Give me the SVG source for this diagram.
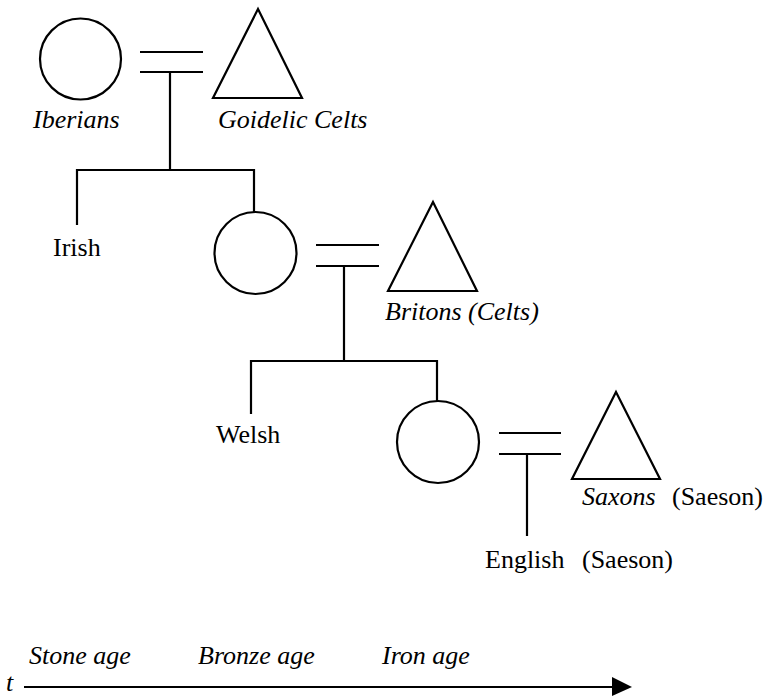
<svg xmlns="http://www.w3.org/2000/svg" width="767" height="698" viewBox="0 0 767 698">
<style>
.s{fill:none;stroke:#000;stroke-width:2.2}
.t{font-family:'Liberation Serif','Times New Roman','DejaVu Serif',serif;font-size:26px;fill:#000}
.i{font-style:italic}
</style>
<rect width="767" height="698" fill="#fff"/>
<g id="iberians"><circle class="s" cx="80.5" cy="59" r="40.5"/><text class="t i" x="33" y="128">Iberians</text></g>
<g id="goidelic"><polygon class="s" points="258,9 302,98 213,98"/><text class="t i" x="218" y="128">Goidelic Celts</text></g>
<g id="irish"><text class="t" x="53" y="256">Irish</text></g>
<g id="mother2"><circle class="s" cx="255.5" cy="253" r="41"/></g>
<g id="britons"><polygon class="s" points="433,202 477,291 388,291"/><text class="t i" x="385" y="320">Britons (Celts)</text></g>
<g id="welsh"><text class="t" x="216" y="443">Welsh</text></g>
<g id="mother3"><circle class="s" cx="438" cy="442" r="41"/></g>
<g id="saxons"><polygon class="s" points="616,392 660,479 572,479"/><text class="t" x="582" y="505"><tspan class="i">Saxons</tspan><tspan x="672">(Saeson)</tspan></text></g>
<g id="english"><text class="t" x="485" y="568">English<tspan x="582">(Saeson)</tspan></text></g>
<g id="connectors">
<path class="s" d="M140 52H203M140 72H203M170 72V170M77 225V170H254V212"/>
<path class="s" d="M316 245H379M316 266H379M344 266V361M251 414V361H437V401"/>
<path class="s" d="M499 433H561M499 454H561M527 454V536"/>
</g>
<g id="timeline">
<text class="t i" x="29" y="664">Stone age</text>
<text class="t i" x="198" y="664">Bronze age</text>
<text class="t i" x="382" y="664">Iron age</text>
<text class="t i" x="6" y="691">t</text>
<line class="s" x1="24" y1="687" x2="614" y2="687"/>
<polygon points="612,677 632,687 612,696" fill="#000"/>
</g>
</svg>
